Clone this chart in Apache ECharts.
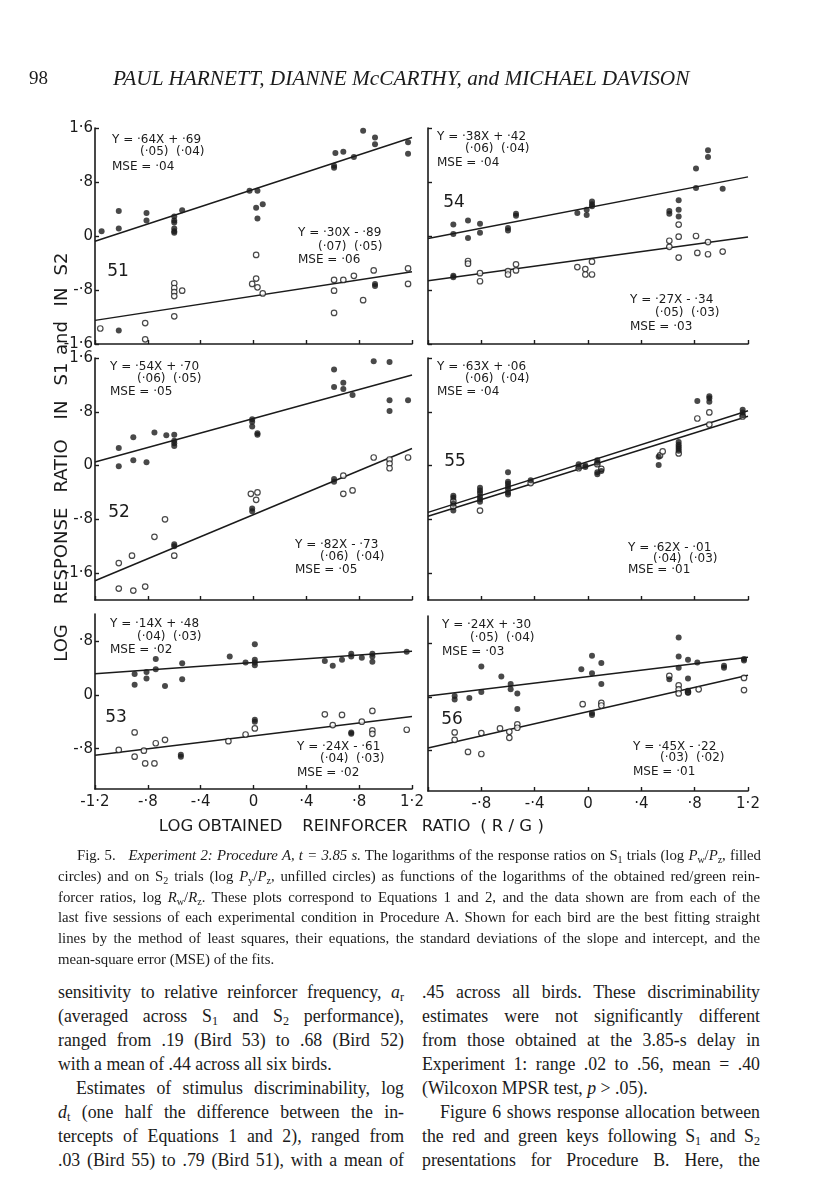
<!DOCTYPE html>
<html><head><meta charset="utf-8">
<script src="https://cdn.jsdelivr.net/npm/echarts@6/dist/echarts.min.js"></script>
<style>
html,body{margin:0;padding:0;background:#fff;}
#page{position:relative;width:816px;height:1200px;overflow:hidden;background:#fff;}
#chart{position:absolute;left:0;top:0;width:816px;height:850px;}
.t{position:absolute;font-family:"Liberation Serif","Times New Roman",serif;color:#1b1b1b;white-space:normal;}
.hdr{font-size:21.3px;font-style:italic;line-height:24px;}
.ln{position:absolute;text-align:justify;text-align-last:justify;}
.ln.last{text-align:left;text-align-last:left;}
.cap .ln{font-size:14.8px;line-height:20px;height:20px;}
.body .ln{font-size:17.8px;line-height:24px;height:24px;}
sub{font-size:68%;vertical-align:-0.25em;line-height:0;}
</style>
</head><body>
<div id="page">
<div id="chart"></div>
<div class="t hdr" style="left:29px;top:66px;font-style:normal;font-size:19px;">98</div>
<div class="t hdr" style="left:113px;top:66px;">PAUL HARNETT, DIANNE McCARTHY, <span style="text-transform:none">and</span> MICHAEL DAVISON</div>

<div class="t cap" style="left:0;top:0;">
<div class="ln" style="left:77px;width:684px;top:845px;letter-spacing:-0.05px;">Fig. 5.&nbsp;&nbsp; <i>Experiment 2: Procedure A, t = 3.85 s.</i> The logarithms of the response ratios on S<sub>1</sub> trials (log <i>P</i><sub>w</sub>/<i>P</i><sub>z</sub>, filled</div>
<div class="ln" style="left:58px;width:702px;top:866px;">circles) and on S<sub>2</sub> trials (log <i>P</i><sub>y</sub>/<i>P</i><sub>z</sub>, unfilled circles) as functions of the logarithms of the obtained red/green rein-</div>
<div class="ln" style="left:58px;width:702px;top:887px;">forcer ratios, log <i>R</i><sub>w</sub>/<i>R</i><sub>z</sub>. These plots correspond to Equations 1 and 2, and the data shown are from each of the</div>
<div class="ln" style="left:58px;width:702px;top:907px;">last five sessions of each experimental condition in Procedure A. Shown for each bird are the best fitting straight</div>
<div class="ln" style="left:58px;width:702px;top:928px;">lines by the method of least squares, their equations, the standard deviations of the slope and intercept, and the</div>
<div class="ln last" style="left:58px;width:702px;top:949px;">mean-square error (MSE) of the fits.</div>
</div>

<div class="t body" style="left:0;top:0;">
<div class="ln" style="left:58px;width:346px;top:980px;">sensitivity to relative reinforcer frequency, <i>a</i><sub>r</sub></div>
<div class="ln" style="left:58px;width:346px;top:1004px;">(averaged across S<sub>1</sub> and S<sub>2</sub> performance),</div>
<div class="ln" style="left:58px;width:346px;top:1028px;">ranged from .19 (Bird 53) to .68 (Bird 52)</div>
<div class="ln last" style="left:58px;width:346px;top:1052px;">with a mean of .44 across all six birds.</div>
<div class="ln" style="left:76px;width:328px;top:1076px;">Estimates of stimulus discriminability, log</div>
<div class="ln" style="left:58px;width:346px;top:1100px;"><i>d</i><sub>t</sub> (one half the difference between the in-</div>
<div class="ln" style="left:58px;width:346px;top:1124px;">tercepts of Equations 1 and 2), ranged from</div>
<div class="ln" style="left:58px;width:346px;top:1148px;">.03 (Bird 55) to .79 (Bird 51), with a mean of</div>

<div class="ln" style="left:422px;width:338px;top:980px;">.45 across all birds. These discriminability</div>
<div class="ln" style="left:422px;width:338px;top:1004px;">estimates were not significantly different</div>
<div class="ln" style="left:422px;width:338px;top:1028px;">from those obtained at the 3.85-s delay in</div>
<div class="ln" style="left:422px;width:338px;top:1052px;">Experiment 1: range .02 to .56, mean = .40</div>
<div class="ln last" style="left:422px;width:338px;top:1076px;">(Wilcoxon MPSR test, <i>p</i> &gt; .05).</div>
<div class="ln" style="left:440px;width:320px;top:1100px;">Figure 6 shows response allocation between</div>
<div class="ln" style="left:422px;width:338px;top:1124px;">the red and green keys following S<sub>1</sub> and S<sub>2</sub></div>
<div class="ln" style="left:422px;width:338px;top:1148px;">presentations for Procedure B. Here, the</div>
</div>
</div>

<script>
// ---------------- DATA ----------------
const birds = ['51', '54', '52', '55', '53', '56'];

// S1 trials (filled circles), [log reinforcer ratio, log response ratio]
const s1_51 = [[-1.15,0.07],[-1.02,0.37],[-1.02,0.11],[-0.81,0.34],[-0.81,0.23],[-0.6,0.29],[-0.6,0.23],[-0.6,0.20],[-0.6,0.11],[-0.6,0.07],[-0.6,0.05],[-0.54,0.38],[-0.03,0.67],[0.03,0.67],[0.02,0.42],[0.07,0.47],[0.03,0.26],[0.61,1.04],[0.61,1.01],[0.62,1.23],[0.68,1.25],[0.76,1.17],[0.83,1.56],[0.92,1.46],[0.92,1.36],[1.17,1.39],[1.17,1.22],[-1.02,-1.40],[0.92,-0.71],[0.92,-0.74]];
const s2_51 = [[-1.16,-1.37],[-0.82,-1.29],[-0.82,-1.53],[-0.6,-0.70],[-0.6,-0.77],[-0.6,-0.83],[-0.6,-0.89],[-0.54,-0.81],[-0.6,-1.19],[0.02,-0.28],[-0.01,-0.71],[0.02,-0.63],[0.03,-0.76],[0.07,-0.85],[0.61,-0.65],[0.61,-0.81],[0.68,-0.65],[0.76,-0.59],[0.61,-1.14],[0.83,-0.95],[0.91,-0.51],[1.17,-0.48],[1.17,-0.71]];

const s1_54 = [[-1.01,0.17],[-1.01,0.03],[-0.9,0.23],[-0.9,-0.03],[-0.81,0.18],[-0.81,0.05],[-0.6,0.12],[-0.6,0.08],[-0.54,0.33],[-0.54,0.30],[-0.08,0.34],[-0.01,0.39],[-0.01,0.31],[0.03,0.51],[0.03,0.47],[0.03,0.44],[0.61,0.37],[0.61,0.33],[0.68,0.53],[0.68,0.39],[0.68,0.29],[0.81,1.0],[0.81,0.71],[0.9,1.27],[0.9,1.17],[1.01,0.70],[-1.01,-0.59],[-1.01,-0.61]];
const s2_54 = [[-0.9,-0.37],[-0.9,-0.41],[-0.81,-0.55],[-0.81,-0.67],[-0.6,-0.52],[-0.6,-0.57],[-0.54,-0.42],[-0.54,-0.51],[-0.08,-0.46],[-0.02,-0.49],[-0.02,-0.57],[0.03,-0.57],[0.03,-0.38],[0.61,-0.07],[0.61,-0.16],[0.68,0.17],[0.68,-0.01],[0.68,-0.32],[0.81,0.0],[0.82,-0.25],[0.9,-0.09],[0.9,-0.27],[1.01,-0.23]];

const s1_52 = [[-1.02,0.26],[-1.02,-0.01],[-0.91,0.42],[-0.91,0.08],[-0.81,0.05],[-0.75,0.49],[-0.66,0.45],[-0.6,0.46],[-0.6,0.37],[-0.6,0.33],[-0.6,0.29],[-0.01,0.69],[-0.01,0.65],[-0.01,0.58],[0.03,0.48],[0.03,0.46],[0.61,1.43],[0.61,1.17],[0.68,1.23],[0.68,1.14],[0.75,1.05],[0.91,1.55],[1.03,1.54],[1.03,0.97],[1.03,0.81],[1.17,0.97],[-0.6,-1.17],[-0.6,-1.20],[-0.01,-0.64],[-0.01,-0.68],[0.61,-0.20],[0.61,-0.24]];
const s2_52 = [[-1.02,-1.45],[-1.02,-1.83],[-0.92,-1.34],[-0.91,-1.86],[-0.82,-1.80],[-0.75,-1.06],[-0.67,-0.80],[-0.6,-1.34],[-0.02,-0.42],[0.03,-0.40],[0.02,-0.51],[0.68,-0.15],[0.68,-0.42],[0.75,-0.37],[0.91,0.12],[1.03,0.09],[1.03,0.03],[1.03,-0.04],[1.17,0.12]];

const s1_55 = [[-1.01,-0.45],[-1.01,-0.48],[-1.01,-0.57],[-1.01,-0.67],[-0.81,-0.33],[-0.81,-0.37],[-0.81,-0.41],[-0.81,-0.46],[-0.81,-0.50],[-0.81,-0.54],[-0.6,-0.10],[-0.6,-0.24],[-0.6,-0.27],[-0.6,-0.31],[-0.6,-0.35],[-0.6,-0.40],[-0.6,-0.43],[-0.43,-0.22],[-0.07,0.02],[-0.07,-0.02],[-0.02,0.0],[-0.02,-0.02],[0.07,0.08],[0.07,0.04],[0.07,-0.10],[0.07,-0.13],[0.1,-0.08],[0.53,0.13],[0.53,0.01],[0.68,0.35],[0.68,0.31],[0.68,0.28],[0.68,0.25],[0.68,0.22],[0.82,0.96],[0.91,1.03],[0.91,1.0],[0.91,0.95],[1.16,0.83],[1.16,0.79],[1.16,0.75]];
const s2_55 = [[-1.01,-0.53],[-1.01,-0.61],[-0.81,-0.67],[-0.43,-0.26],[-0.07,-0.04],[0.07,0.02],[0.1,-0.05],[0.54,0.15],[0.56,0.21],[0.68,0.18],[0.82,0.70],[0.91,0.79],[0.91,0.61],[1.16,0.73]];

const s1_53 = [[-0.9,0.31],[-0.9,0.15],[-0.81,0.34],[-0.81,0.24],[-0.74,0.53],[-0.74,0.38],[-0.67,0.13],[-0.54,0.47],[-0.54,0.23],[-0.18,0.57],[-0.06,0.48],[0.01,0.75],[0.01,0.52],[0.01,0.48],[0.01,0.44],[0.54,0.50],[0.6,0.43],[0.67,0.52],[0.74,0.61],[0.74,0.57],[0.82,0.55],[0.9,0.61],[0.9,0.57],[0.9,0.49],[1.16,0.64],[-0.55,-0.89],[-0.55,-0.92],[0.01,-0.37],[0.01,-0.40],[0.74,-0.56],[0.74,-0.58]];
const s2_53 = [[-1.02,-0.82],[-0.9,-0.56],[-0.9,-0.92],[-0.83,-0.83],[-0.82,-1.02],[-0.75,-1.02],[-0.74,-0.72],[-0.67,-0.67],[-0.19,-0.69],[-0.06,-0.59],[0.01,-0.50],[0.54,-0.29],[0.6,-0.45],[0.67,-0.30],[0.82,-0.40],[0.9,-0.24],[0.9,-0.53],[0.9,-0.58],[1.16,-0.52]];

const s1_56 = [[-1.0,0.01],[-1.0,-0.04],[-0.89,-0.02],[-0.8,0.45],[-0.8,0.07],[-0.65,0.30],[-0.58,0.19],[-0.58,0.11],[-0.53,0.05],[-0.53,-0.18],[-0.05,0.41],[0.03,0.61],[0.03,0.35],[0.1,0.50],[0.1,0.19],[0.03,-0.24],[0.03,-0.27],[0.61,0.26],[0.68,0.88],[0.68,0.60],[0.68,0.43],[0.75,0.55],[0.75,0.27],[0.75,0.09],[0.75,0.06],[0.82,0.51],[1.02,0.46],[1.02,0.43],[1.17,0.56],[1.17,0.54]];
const s2_56 = [[-1.0,-0.53],[-1.0,-0.64],[-0.9,-0.82],[-0.8,-0.54],[-0.8,-0.85],[-0.66,-0.47],[-0.59,-0.52],[-0.59,-0.61],[-0.53,-0.41],[-0.53,-0.46],[-0.04,-0.11],[0.1,-0.09],[0.1,-0.13],[0.61,0.31],[0.68,0.17],[0.68,0.11],[0.68,0.05],[0.75,0.07],[0.83,0.11],[1.17,0.28],[1.17,0.10]];

// Fitted lines as printed (slope, intercept)
const fitSlopeS1 = [0.64, 0.38, 0.54, 0.63, 0.14, 0.24];
const fitInterceptS1 = [0.69, 0.42, 0.70, 0.06, 0.48, 0.30];
const fitSlopeS2 = [0.30, 0.27, 0.82, 0.62, 0.24, 0.45];
const fitInterceptS2 = [-0.89, -0.34, -0.73, -0.01, -0.61, -0.22];

// Equation texts
const eqS1 = [
  ['Y = ·64X + ·69', '(·05)  (·04)', 'MSE = ·04'],
  ['Y = ·38X + ·42', '(·06)  (·04)', 'MSE = ·04'],
  ['Y = ·54X + ·70', '(·06)  (·05)', 'MSE = ·05'],
  ['Y = ·63X + ·06', '(·06)  (·04)', 'MSE = ·04'],
  ['Y = ·14X + ·48', '(·04)  (·03)', 'MSE = ·02'],
  ['Y = ·24X + ·30', '(·05)  (·04)', 'MSE = ·03']
];
const eqS2 = [
  ['Y = ·30X - ·89', '(·07)  (·05)', 'MSE = ·06'],
  ['Y = ·27X - ·34', '(·05)  (·03)', 'MSE = ·03'],
  ['Y = ·82X - ·73', '(·06)  (·04)', 'MSE = ·05'],
  ['Y = ·62X - ·01', '(·04)  (·03)', 'MSE = ·01'],
  ['Y = ·24X - ·61', '(·04)  (·03)', 'MSE = ·02'],
  ['Y = ·45X - ·22', '(·03)  (·02)', 'MSE = ·01']
];

// Axes
const xMin = -1.2, xMax = 1.2, xStep = 0.4;
const xTickValues = [-1.2, -0.8, -0.4, 0, 0.4, 0.8, 1.2];
const xLabelsLeft = [-1.2, -0.8, -0.4, 0, 0.4, 0.8, 1.2];
const xLabelsRight = [-0.8, -0.4, 0, 0.4, 0.8, 1.2];
const yRangeRows = [[-1.6, 1.6], [-2.0, 1.6], [-1.4, 1.2]];
const yTicksRows = [[-1.6, -0.8, 0, 0.8, 1.6], [-1.6, -0.8, 0, 0.8, 1.6], [-0.8, 0, 0.8]];

const xTitleWords = ['LOG', 'OBTAINED', 'REINFORCER', 'RATIO', '( R / G )'];
const yTitleWords = ['LOG', 'RESPONSE', 'RATIO', 'IN', 'S1', 'and', 'IN', 'S2'];

// ---------------- BUILD ----------------
const s1Sets = [s1_51, s1_54, s1_52, s1_55, s1_53, s1_56];
const s2Sets = [s2_51, s2_54, s2_52, s2_55, s2_53, s2_56];

const INK = '#1b1b1b';
const TICKFONT = '"DejaVu Sans", sans-serif';

const gridBoxes = [
  {left: 95, top: 128, width: 317, height: 216},
  {left: 428, top: 128, width: 320, height: 216},
  {left: 95, top: 358, width: 317, height: 242},
  {left: 428, top: 358, width: 320, height: 242},
  {left: 95, top: 614, width: 317, height: 175},
  {left: 428, top: 616, width: 320, height: 175}
];

function fmt(v) {
  if (Math.abs(v) < 1e-9) return '0';
  let s = Math.abs(v).toFixed(1);
  if (s[0] === '0') s = s.slice(1);
  s = s.replace('.', '·');
  return (v < 0 ? '-' : '') + s;
}

const grids = [], xAxes = [], yAxes = [], series = [];
for (let i = 0; i < 6; i++) {
  const row = Math.floor(i / 2), col = i % 2;
  grids.push(Object.assign({containLabel: false}, gridBoxes[i]));
  xAxes.push({
    type: 'value', gridIndex: i, min: xMin, max: xMax, interval: xStep,
    axisLine: {show: true, onZero: false, lineStyle: {color: INK, width: 1.6}},
    axisTick: {show: true, inside: true, length: 4, lineStyle: {color: INK, width: 1.4}, customValues: xTickValues},
    axisLabel: {show: row === 2, color: INK, fontFamily: TICKFONT, fontSize: 15, margin: 6,
      customValues: col === 0 ? xLabelsLeft : xLabelsRight, formatter: fmt},
    splitLine: {show: false}
  });
  yAxes.push({
    type: 'value', gridIndex: i, min: yRangeRows[row][0], max: yRangeRows[row][1],
    axisLine: {show: true, onZero: false, lineStyle: {color: INK, width: 1.6}},
    axisTick: {show: true, inside: true, length: 4, lineStyle: {color: INK, width: 1.4}, customValues: yTicksRows[row]},
    axisLabel: {show: col === 0, color: INK, fontFamily: TICKFONT, fontSize: 15, margin: 2,
      customValues: yTicksRows[row], formatter: fmt},
    splitLine: {show: false}
  });
  series.push({
    type: 'line', xAxisIndex: i, yAxisIndex: i, symbol: 'none', silent: true, z: 2,
    lineStyle: {color: INK, width: 1.5},
    data: [[xMin, fitSlopeS1[i] * xMin + fitInterceptS1[i]], [xMax, fitSlopeS1[i] * xMax + fitInterceptS1[i]]]
  });
  series.push({
    type: 'line', xAxisIndex: i, yAxisIndex: i, symbol: 'none', silent: true, z: 2,
    lineStyle: {color: INK, width: 1.5},
    data: [[xMin, fitSlopeS2[i] * xMin + fitInterceptS2[i]], [xMax, fitSlopeS2[i] * xMax + fitInterceptS2[i]]]
  });
  series.push({
    type: 'scatter', xAxisIndex: i, yAxisIndex: i, symbol: 'circle', symbolSize: 5.5, z: 4,
    itemStyle: {color: '#fff', borderColor: INK, borderWidth: 1.2},
    data: s2Sets[i]
  });
  series.push({
    type: 'scatter', xAxisIndex: i, yAxisIndex: i, symbol: 'circle', symbolSize: 6, z: 5,
    itemStyle: {color: INK, borderWidth: 0},
    data: s1Sets[i]
  });
}

// text placements (pixel positions)
const eqPosS1 = [[112,140,152,167,140],[437,137,149,163,465],[110,367,379,392,137],[437,367,379,392,465],[110,624,637,650,137],[442,625,638,652,470]];
const eqPosS2 = [[298,233,247,260,318],[630,300,313,327,655],[295,545,557,570,320],[628,548,559,570,653],[297,747,759,773,320],[633,747,758,772,660]];
const birdPos = [[118,272],[454,203],[119,513],[455,462],[116,718],[452,720]];

const graphics = [];
function txt(x, y, s, size, align, extra) {
  return Object.assign({type: 'text', x: x, y: y, silent: true,
    style: {text: s, fill: INK, font: size + 'px "DejaVu Sans", sans-serif', align: align || 'left', verticalAlign: 'middle'}}, extra || {});
}
for (let i = 0; i < 6; i++) {
  const a = eqPosS1[i], b = eqPosS2[i];
  graphics.push(txt(a[0], a[1], eqS1[i][0], 12));
  graphics.push(txt(a[4], a[2], eqS1[i][1], 12));
  graphics.push(txt(a[0], a[3], eqS1[i][2], 12));
  graphics.push(txt(b[0], b[1], eqS2[i][0], 12));
  graphics.push(txt(b[4], b[2], eqS2[i][1], 12));
  graphics.push(txt(b[0], b[3], eqS2[i][2], 12));
  graphics.push(txt(birdPos[i][0], birdPos[i][1], birds[i], 17, 'center'));
}
const xTitlePos = [176, 240, 355, 446, 512];
xTitleWords.forEach((w, k) => graphics.push(txt(xTitlePos[k], 827, w, 16.5, 'center')));
const yTitlePos = [643, 556, 466, 410, 374, 338, 297, 264];
yTitleWords.forEach((w, k) => graphics.push(txt(62, yTitlePos[k], w, 18, 'center', {rotation: Math.PI / 2})));

const chart = echarts.init(document.getElementById('chart'), null, {renderer: 'canvas'});
chart.setOption({
  animation: false,
  backgroundColor: 'transparent',
  grid: grids, xAxis: xAxes, yAxis: yAxes, series: series,
  graphic: {elements: graphics}
});
</script>
</body></html>
